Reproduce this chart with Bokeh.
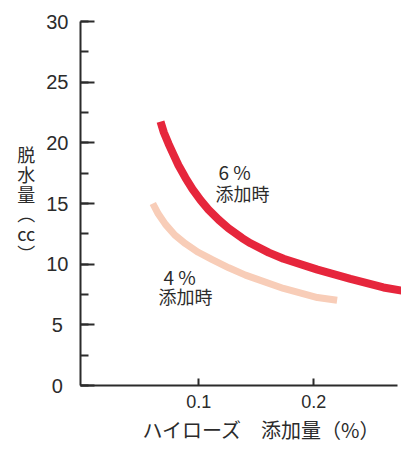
from bokeh.plotting import figure
from bokeh.models import Range1d, SingleIntervalTicker, FixedTicker, Label, Title
from bokeh.embed import file_html
from bokeh.resources import INLINE

# ---- data ----
x_6pct = [0.0667, 0.0696, 0.0737, 0.0783, 0.0823, 0.0884, 0.0945, 0.1015, 0.1084, 0.1174,
          0.1258, 0.1377, 0.1450, 0.1609, 0.1737, 0.2032, 0.2319, 0.2606, 0.2902]
y_6pct = [21.75, 20.85, 19.92, 18.97, 18.15, 17.12, 16.19, 15.28, 14.50, 13.65,
          12.96, 12.15, 11.72, 10.95, 10.45, 9.55, 8.78, 8.08, 7.60]
x_4pct = [0.0600, 0.0647, 0.0710, 0.0791, 0.0884, 0.0995, 0.1117, 0.1261, 0.1406, 0.1737, 0.2032, 0.2203]
y_4pct = [15.00, 14.15, 13.28, 12.40, 11.69, 10.98, 10.37, 9.70, 9.10, 8.00, 7.25, 7.02]
x_ticks = [0.1, 0.2]
y_tick_labels = {0: "0\u00a0", 5: "5\u00a0", 10: "10", 15: "15", 20: "20", 25: "25", 30: "30"}
label_6 = ["6 %", "添加時"]
label_4 = ["4 %", "添加時"]
x_title = "ハイローズ\u3000添加量（%）"
y_title = "脱\n水\n量\n︵\ncc\n︶"

JP = "Noto Sans CJK JP"
NUM = "Liberation Sans"
INK = "#2b2b2b"

p = figure(width=401, height=445, output_backend="svg", toolbar_location=None,
           x_range=Range1d(-0.0029, 0.2763), y_range=Range1d(0, 30),
           min_border_left=80, min_border_right=0, min_border_top=21, min_border_bottom=51)
p.outline_line_color = None
p.grid.visible = False
p.background_fill_color = "white"
p.border_fill_color = "white"

p.line(x_4pct, y_4pct, line_color="#f8cdb8", line_width=7, line_join="round")
p.line(x_6pct, y_6pct, line_color="#e6263c", line_width=8, line_join="round")

# x axis
xa = p.xaxis[0]
xa.ticker = FixedTicker(ticks=x_ticks, minor_ticks=[])
xa.bounds = (-0.0029, 0.273)
xa.axis_line_color = INK
xa.axis_line_width = 2
xa.major_tick_line_color = INK
xa.major_tick_line_width = 2
xa.major_tick_in = 7
xa.major_tick_out = 0
xa.minor_tick_line_color = None
xa.major_label_text_font = NUM
xa.major_label_text_font_size = "18px"
xa.major_label_text_color = INK
xa.major_label_standoff = 9

# y axis
ya = p.yaxis[0]
ya.ticker = SingleIntervalTicker(interval=5, num_minor_ticks=2)
ya.bounds = (0, 30)
ya.axis_line_color = INK
ya.axis_line_width = 2
ya.major_tick_line_color = INK
ya.major_tick_line_width = 2
ya.major_tick_in = 14
ya.major_tick_out = 0
ya.minor_tick_line_color = INK
ya.minor_tick_line_width = 2
ya.minor_tick_in = 8
ya.minor_tick_out = 0
ya.major_label_overrides = y_tick_labels
ya.major_label_text_font = NUM
ya.major_label_text_font_size = "20px"
ya.major_label_text_color = INK
ya.major_label_standoff = 12
ya.axis_label = y_title
ya.axis_label_orientation = "horizontal"
ya.axis_label_text_font = JP
ya.axis_label_text_font_size = "18px"
ya.axis_label_text_font_style = "normal"
ya.axis_label_text_color = INK
ya.axis_label_text_line_height = 0.76
ya.axis_label_standoff = 8

p.add_layout(Title(text=x_title, align="left", offset=62, standoff=4,
                   text_font=JP, text_font_size="20px", text_font_style="normal",
                   text_color=INK), "below")

def lab(x, y, t, size):
    p.add_layout(Label(x=x, y=y, text=t, text_font=JP, text_font_size=size,
                       text_color=INK, text_align="left", text_baseline="middle"))

lab(0.1171, 17.65, label_6[0], "19px")
lab(0.1145, 15.90, label_6[1], "18px")
lab(0.0693, 9.00, label_4[0], "19px")
lab(0.0650, 7.40, label_4[1], "18px")

open("out.html", "w").write(file_html(p, INLINE))
